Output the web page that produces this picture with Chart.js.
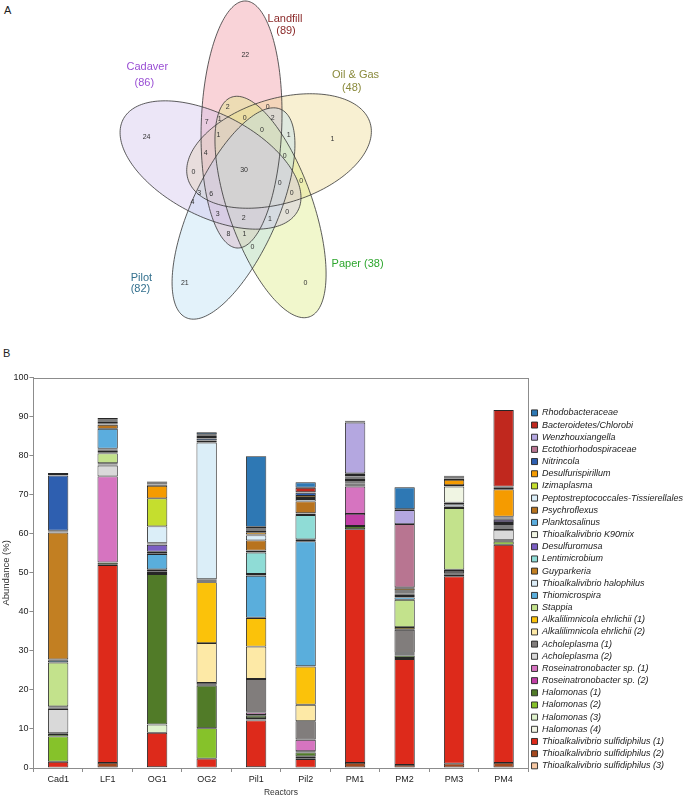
<!DOCTYPE html>
<html>
<head>
<meta charset="utf-8">
<script src="https://cdn.jsdelivr.net/npm/chart.js@4.4.1/dist/chart.umd.min.js"></script>
<style>
  body { margin: 0; background: #fff; width: 685px; height: 798px; position: relative; overflow: hidden; font-family: "Liberation Sans", Arial, sans-serif; }
  .tag { position: absolute; font-size: 11px; color: #222; }
  #vennBox { position: absolute; left: 0; top: 0; width: 685px; height: 340px; }
  #barBox { position: absolute; left: 0; top: 361px; width: 685px; height: 440px; }
</style>
</head>
<body>
<div class="tag" style="left:4px;top:4px">A</div>
<div class="tag" style="left:3px;top:347px">B</div>
<div id="vennBox"><canvas id="vennCanvas"></canvas></div>
<div id="barBox"><canvas id="barCanvas"></canvas></div>
<script>
"use strict";
const FONT = '"Liberation Sans", Arial, sans-serif';

// ---------- Venn (panel A) ----------
const setNames = ['Landfill', 'Oil & Gas', 'Paper', 'Pilot', 'Cadaver'];
const setSizes = [89, 48, 38, 82, 86];
const setFills = ['rgba(240,145,158,0.4)', 'rgba(238,218,143,0.4)', 'rgba(220,235,128,0.4)', 'rgba(185,223,243,0.4)', 'rgba(208,193,235,0.4)'];
// each ellipse: its two far ends, and a common half width
const tipAx = [-0.8, 163.7, 87.4, -85.0, -165.3];
const tipAy = [175.6, 49.6, -138.4, -138.4, 51.6];
const tipBx = [-12.6, -78.4, -24.5, 50.5, 70.3];
const tipBy = [-71.4, 1.6, 77.6, 64.6, -28.4];
const halfWidth = 53;

const labelText = ['Landfill', '(89)', 'Oil & Gas', '(48)', 'Paper (38)', 'Pilot', '(82)', 'Cadaver', '(86)'];
const labelX = [50.5, 51.8, 143.3, 138.2, 146.0, -138.5, -139.7, -130.7, -134.6];
const labelY = [157.6, 145.6, 101.6, 88.6, -87.4, -101.4, -112.4, 109.6, 93.6];
const labelColor = ['#8b2a2a', '#8b2a2a', '#8a8a3c', '#8a8a3c', '#2ea62e', '#33708e', '#33708e', '#9a4fd4', '#9a4fd4'];

const regionCounts = [22, 24, 1, 21, 0, 30, 2, 0, 7, 1, 0, 2, 1, 0, 1, 4, 0, 0, 0, 0, 3, 6, 0, 4, 3, 2, 1, 0, 8, 1, 0];
const regionX = [-1.7, -131.6, 113.0, -81.3, 77.5, -3.4, -24.9, 27.8, -52.4, -35.3, -2.4, 34.3, -37.1, 20.3, 55.3, -53.8, 50.0, -70.0, 71.8, 43.4, -62.5, -46.7, 59.3, -71.3, -37.9, -3.8, 30.8, 53.4, -24.0, -3.0, 7.5];
const regionY = [121.3, 39.6, 37.6, -106.1, -106.7, 6.6, 69.9, 69.9, 54.9, 57.9, 58.6, 58.3, 41.3, 46.6, 41.6, 23.3, 20.6, 4.9, -4.1, -6.4, -16.1, -17.4, -16.1, -25.7, -37.4, -41.7, -42.7, -35.4, -57.4, -57.7, -70.7];

const vennPlugin = {
    id: 'venn',
    beforeDatasetsDraw(chart) {
        const ctx = chart.ctx, xs = chart.scales.x, ys = chart.scales.y;
        const paths = [];
        for (let k = 0; k < 5; k++) {
            const cx = (tipAx[k] + tipBx[k]) / 2, cy = (tipAy[k] + tipBy[k]) / 2;
            const dx = (tipAx[k] - tipBx[k]) / 2, dy = (tipAy[k] - tipBy[k]) / 2;
            const len = Math.hypot(dx, dy);
            const v = [dy / len * halfWidth, -dx / len * halfWidth];
            const p = new Path2D();
            for (let i = 0; i <= 180; i++) {
                const t = i / 180 * 2 * Math.PI;
                const x = cx + Math.cos(t) * dx + Math.sin(t) * v[0];
                const y = cy + Math.cos(t) * dy + Math.sin(t) * v[1];
                if (i == 0) p.moveTo(xs.getPixelForValue(x), ys.getPixelForValue(y));
                else p.lineTo(xs.getPixelForValue(x), ys.getPixelForValue(y));
            }
            p.closePath();
            paths.push(p);
        }
        ctx.save();
        paths.forEach((p, k) => { ctx.fillStyle = setFills[k]; ctx.fill(p); });
        ctx.strokeStyle = '#333';
        ctx.lineWidth = 0.8;
        paths.forEach(p => ctx.stroke(p));
        ctx.restore();
    },
    afterDatasetsDraw(chart) {
        const ctx = chart.ctx, xs = chart.scales.x, ys = chart.scales.y;
        ctx.save();
        ctx.textAlign = 'center';
        ctx.textBaseline = 'middle';
        ctx.font = '7px ' + FONT;
        ctx.fillStyle = '#333';
        chart.getDatasetMeta(0).data.forEach((pt, i) => {
            ctx.fillText(String(regionCounts[i]), pt.x, pt.y);
        });
        ctx.font = '11px ' + FONT;
        for (let i = 0; i < labelText.length; i++) {
            ctx.fillStyle = labelColor[i];
            ctx.fillText(labelText[i], xs.getPixelForValue(labelX[i]), ys.getPixelForValue(labelY[i]));
        }
        ctx.restore();
    }
};

new Chart(document.getElementById('vennCanvas'), {
    type: 'scatter',
    data: {
        datasets: [{
            data: regionX.map((x, i) => ({ x: x, y: regionY[i] })),
            pointRadius: 0
        }]
    },
    options: {
        responsive: true,
        maintainAspectRatio: false,
        animation: false,
        layout: { padding: 0 },
        plugins: { legend: { display: false }, tooltip: { enabled: false } },
        scales: {
            x: { display: false, min: -324.5, max: 576.8 },
            y: { display: false, min: -163.4, max: 176.6 }
        }
    },
    plugins: [vennPlugin]
});

// ---------- stacked bars (panel B) ----------
const reactors = ['Cad1', 'LF1', 'OG1', 'OG2', 'Pil1', 'Pil2', 'PM1', 'PM2', 'PM3', 'PM4'];

// bottom of the stack first
const sulfidiphilus3 = [0, 0, 0, 0, 0, 0, 0, 0, 0, 0];
const sulfidiphilus2 = [0.1, 1.3, 0.2, 0.1, 0.2, 0.1, 1.3, 0.8, 1.1, 1.3];
const sulfidiphilus1 = [1.5, 50.7, 8.8, 2.3, 12.0, 2.2, 59.9, 27.1, 48.0, 55.9];
const halomonas4 = [0, 0, 0, 0, 0, 0, 0, 0, 0, 0];
const halomonas3 = [0, 0, 2.1, 0, 0.2, 0.2, 0, 0, 0, 0];
const halomonas2 = [6.5, 0.1, 0.1, 7.8, 0.4, 0.5, 0, 0.3, 0, 0.8];
const halomonas1 = [0.6, 0.5, 38.5, 10.9, 0.6, 1.0, 0.8, 0.6, 0.4, 0.2];
const roseinatronobacter2 = [0, 0.1, 0, 0, 0.2, 0.3, 3.1, 0.2, 0.4, 0.2];
const roseinatronobacter1 = [0.2, 22.0, 0, 0.2, 0.6, 2.9, 7.0, 0.4, 0, 0];
const acholeplasma2 = [6.2, 2.8, 0, 0, 0.2, 0.1, 0, 0.1, 0, 2.6];
const acholeplasma1 = [0.2, 0.2, 0.5, 0.5, 8.4, 4.7, 0.2, 5.9, 0.6, 0.4];
const alkalilimnicola2 = [0.2, 0.1, 0.1, 10.2, 8.3, 4.2, 0, 0.2, 0, 0];
const alkalilimnicola1 = [0.3, 0.3, 0.4, 15.6, 7.3, 9.8, 0.3, 0.5, 0.3, 0.3];
const stappia = [11.2, 2.5, 0.2, 0.1, 0.1, 0.1, 0, 7.0, 15.8, 0.1];
const thiomicrospira = [0.5, 0.3, 3.9, 0.4, 10.7, 32.0, 0.3, 0.6, 0.4, 0.4];
const halophilus = [0.3, 0.5, 0.1, 0.2, 0.1, 0.3, 0.3, 0.4, 0.6, 0.3];
const guyparkeria = [32.5, 0.1, 0.5, 0.1, 0.4, 0.2, 0.3, 0.3, 0.4, 0.3];
const lentimicrobium = [0, 0, 0, 0, 5.5, 6.2, 0, 0, 0, 0.2];
const desulfuromusa = [0, 0.1, 1.8, 0, 0.4, 0.3, 0, 0.3, 0, 0.6];
const k90mix = [0.1, 0.2, 0.1, 0, 0, 0.1, 0.3, 0.2, 4.1, 0.3];
const planktosalinus = [0.2, 5.1, 0.2, 0, 0.1, 0.1, 0.3, 0.2, 0.1, 0.3];
const psychroflexus = [0.2, 1.0, 0.2, 0, 2.6, 3.0, 0.2, 0.2, 0.3, 0.2];
const peptostreptococcales = [0, 0.1, 4.2, 35.0, 1.3, 0.6, 0.2, 0, 0, 0];
const izimaplasma = [0, 0.1, 7.2, 0.1, 0.2, 0.3, 0, 0.1, 0, 0];
const desulfurispirillum = [0, 0.2, 3.2, 0.4, 0.6, 0.5, 0.2, 0.5, 1.3, 7.0];
const nitrincola = [14.1, 0.4, 0.3, 0.5, 0.5, 0.8, 0.4, 0.4, 0.4, 0.4];
const ectothiorhodospiraceae = [0.1, 0.3, 0.1, 0.4, 0.3, 0.1, 0.4, 16.2, 0.3, 0.3];
const wenzhouxiangella = [0.1, 0.2, 0.1, 0.3, 0.2, 0.1, 13.0, 3.6, 0, 0];
const bacteroidetes = [0.2, 0.2, 0.4, 0.4, 0.4, 1.1, 0.2, 0.2, 0.1, 19.6];
const rhodobacteraceae = [0.3, 0.3, 0.2, 0.5, 18.1, 1.4, 0.3, 5.6, 0.3, 0];

const taxa = [
    ['Thioalkalivibrio sulfidiphilus (3)', sulfidiphilus3, '#f8c9a4'],
    ['Thioalkalivibrio sulfidiphilus (2)', sulfidiphilus2, '#a4481e'],
    ['Thioalkalivibrio sulfidiphilus (1)', sulfidiphilus1, '#dd2a1b'],
    ['Halomonas (4)', halomonas4, '#f1f4e4'],
    ['Halomonas (3)', halomonas3, '#dff2cc'],
    ['Halomonas (2)', halomonas2, '#86c22a'],
    ['Halomonas (1)', halomonas1, '#517b28'],
    ['Roseinatronobacter sp. (2)', roseinatronobacter2, '#c23fa6'],
    ['Roseinatronobacter sp. (1)', roseinatronobacter1, '#d674c0'],
    ['Acholeplasma (2)', acholeplasma2, '#d9d9d9'],
    ['Acholeplasma (1)', acholeplasma1, '#817d7c'],
    ['Alkalilimnicola ehrlichii (2)', alkalilimnicola2, '#fde9a6'],
    ['Alkalilimnicola ehrlichii (1)', alkalilimnicola1, '#fbc20a'],
    ['Stappia', stappia, '#c3e28c'],
    ['Thiomicrospira', thiomicrospira, '#5aaedc'],
    ['Thioalkalivibrio halophilus', halophilus, '#dbecf7'],
    ['Guyparkeria', guyparkeria, '#c27f22'],
    ['Lentimicrobium', lentimicrobium, '#8fdcd6'],
    ['Desulfuromusa', desulfuromusa, '#7b5ec3'],
    ['Thioalkalivibrio K90mix', k90mix, '#f0f5e3'],
    ['Planktosalinus', planktosalinus, '#5badde'],
    ['Psychroflexus', psychroflexus, '#b8731e'],
    ['Peptostreptococcales-Tissierellales', peptostreptococcales, '#dbeef8'],
    ['Izimaplasma', izimaplasma, '#c5de2e'],
    ['Desulfurispirillum', desulfurispirillum, '#f59b00'],
    ['Nitrincola', nitrincola, '#2e5fb0'],
    ['Ectothiorhodospiraceae', ectothiorhodospiraceae, '#b87591'],
    ['Wenzhouxiangella', wenzhouxiangella, '#b4a7e0'],
    ['Bacteroidetes/Chlorobi', bacteroidetes, '#c0281e'],
    ['Rhodobacteraceae', rhodobacteraceae, '#2e78b4']
];

const frame = {
    id: 'frame',
    afterDraw(chart) {
        const a = chart.chartArea, ctx = chart.ctx;
        ctx.save();
        ctx.strokeStyle = '#8c8c8c';
        ctx.lineWidth = 1;
        ctx.strokeRect(Math.round(a.left) + 0.5, Math.round(a.top) + 0.5, Math.round(a.right - a.left), Math.round(a.bottom - a.top));
        ctx.restore();
    }
};

new Chart(document.getElementById('barCanvas'), {
    type: 'bar',
    data: {
        labels: reactors,
        datasets: taxa.map(t => ({
            label: t[0],
            data: t[1].map(v => v > 0 ? v : null),
            backgroundColor: t[2],
            borderColor: '#262626',
            borderWidth: 0.9,
            borderSkipped: false,
            categoryPercentage: 1,
            barPercentage: 0.41
        }))
    },
    options: {
        responsive: true,
        maintainAspectRatio: false,
        animation: false,
        layout: { padding: { top: 16.7, right: -8, left: 1, bottom: 0 } },
        plugins: {
            legend: {
                position: 'right',
                reverse: true,
                labels: {
                    boxWidth: 6,
                    boxHeight: 6,
                    padding: 3.17,
                    color: '#222',
                    font: { family: FONT, size: 9, style: 'italic' }
                }
            },
            tooltip: { enabled: false }
        },
        scales: {
            x: {
                stacked: true,
                grid: { drawOnChartArea: false, tickLength: 4, color: '#8c8c8c' },
                border: { color: '#8c8c8c' },
                ticks: { color: '#222', font: { family: FONT, size: 9 }, padding: 2 },
                title: { display: true, text: 'Reactors', color: '#333', font: { family: FONT, size: 8.5 }, padding: { top: 1, bottom: 3 } }
            },
            y: {
                stacked: true,
                min: 0,
                max: 100,
                grid: { drawOnChartArea: false, tickLength: 4, color: '#8c8c8c' },
                border: { color: '#8c8c8c' },
                ticks: { stepSize: 10, color: '#222', font: { family: FONT, size: 9 }, padding: 1 },
                title: { display: true, text: 'Abundance (%)', color: '#333', font: { family: FONT, size: 9.5 }, padding: 0 }
            }
        }
    },
    plugins: [frame]
});
</script>
</body>
</html>
